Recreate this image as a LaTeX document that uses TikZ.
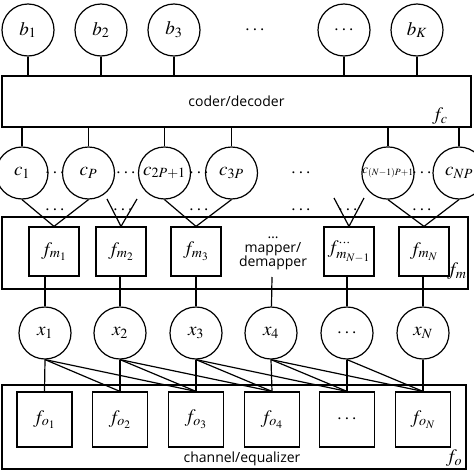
\documentclass[tikz,border=0pt]{standalone}
\usepackage{mathptmx}
\usepackage{fontspec}
\newfontfamily\labelfont{Open Sans}

\begin{document}
\begin{tikzpicture}
[x=1pt,y=-1pt,line width=1.2pt,
 every node/.style={font=\fontsize{19}{22}\selectfont},
 var/.style={circle,draw,minimum size=52pt,inner sep=0pt},
 fac/.style={draw,minimum width=50pt,minimum height=49pt,inner sep=0pt},
 obs/.style={draw,minimum width=55pt,minimum height=55pt,inner sep=0pt},
 grp/.style={draw,inner sep=0pt},
 txt/.style={font=\labelfont\fontsize{14}{14}\selectfont,align=center}]
\useasboundingbox (0,0) rectangle (474,474);
% information bits
\node[var] (b1) at (28,30) {$b_1$};
\node[var] (b2) at (101,30) {$b_2$};
\node[var] (b3) at (174,30) {$b_3$};
\node (bdots) at (255,30) {$\cdots$};
\node[var] (b5) at (344,30) {$\cdots$};
\node[var] (b6) at (417,30) {$b_K$};
\node[grp,txt,minimum width=469pt,minimum height=51pt] (coder) at (236.5,101.5) {coder/decoder};
\node (fc) at (440,116) {$f_c$};
% coded bits
\node[var] (c1) at (22,173) {$c_1$};
\node[var] (c2) at (88.5,173) {$c_P$};
\node[var] (c3) at (164.5,173) {$c_{2P+1}$};
\node[var] (c4) at (231.5,173) {$c_{3P}$};
\node[var,font=\fontsize{13}{15}\selectfont] (c5) at (388,173) {$c_{(N-1)P+1}$};
\node[var] (c6) at (459,173) {$c_{NP}$};
\foreach \x in {55,126,199,301,422}
\node at (\x,173) {$\cdots$};
\foreach \x in {55,123,199,301,348,422}
\node at (\x,210) {$\cdots$};
\coordinate (v1) at (107,199);
\coordinate (v2) at (137,199);
\coordinate (v3) at (334,198);
\coordinate (v4) at (364,198);
% mapper
\node[grp,minimum width=466pt,minimum height=72pt] (mapper) at (235,253) {};
\node[fac] (fm1) at (54,251.5) {$f_{m_1}$};
\node[fac] (fm2) at (121,251.5) {$f_{m_2}$};
\node[fac] (fm3) at (196,251.5) {$f_{m_3}$};
\node[fac] (fm4) at (349,251.5) {$f^{\cdots}_{m_{N-1}}$};
\node[fac] (fm5) at (424,251.5) {$f_{m_N}$};
\node[txt] (mtxt) at (273,253) {\dots\\mapper/\\demapper};
\node (fmlab) at (457,271) {$f_m$};
\coordinate (mx) at (272,277);
% symbols
\node[var] (x1) at (45,333) {$x_1$};
\node[var] (x2) at (120,333) {$x_2$};
\node[var] (x3) at (196,333) {$x_3$};
\node[var] (x4) at (271,333) {$x_4$};
\node[var] (x5) at (347,333) {$\cdots$};
\node[var] (x6) at (423,333) {$x_N$};
% channel
\node[grp,minimum width=464pt,minimum height=84pt] (chan) at (234,427) {};
\node[obs] (fo1) at (44.5,419.5) {$f_{o_1}$};
\node[obs] (fo2) at (120,419.5) {$f_{o_2}$};
\node[obs] (fo3) at (196,419.5) {$f_{o_3}$};
\node[obs] (fo4) at (272,419.5) {$f_{o_4}$};
\node[obs] (fo5) at (347,419.5) {$\cdots$};
\node[obs] (fo6) at (423,419.5) {$f_{o_N}$};
\node[txt] (ctxt) at (242,459) {channel/equalizer};
\node (folab) at (454,458) {$f_o$};
% edges
\foreach \n in {b1,b2,b3,b5,b6}
\draw (\n) -- (coder.north -| \n);
\foreach \n in {c1,c2,c3,c4,c5,c6}
\draw (coder.south -| \n) -- (\n);
\foreach \from/\to in {c1.south/fm1,c2.south/fm1,v1/fm2,v2/fm2,c3.south/fm3,c4.south/fm3,v3/fm4,v4/fm4,c5.south/fm5,c6.south/fm5}
\draw (\from) -- (\to.north);
\foreach \m/\n in {fm1/x1,fm2/x2,fm3/x3,fm4/x5,fm5/x6}
\draw (\m.south -| \n) -- (\n);
\draw (mx) -- (x4);
\foreach \from/\to in {x1/fo1,x1/fo2,x1/fo3,x2/fo2,x2/fo3,x2/fo4,x3/fo3,x3/fo4,x3/fo5,x4/fo4,x4/fo5,x4/fo6,x5/fo5,x5/fo6,x6/fo6}
\draw (\from.south) -- (\to.north);
\end{tikzpicture}
\end{document}
